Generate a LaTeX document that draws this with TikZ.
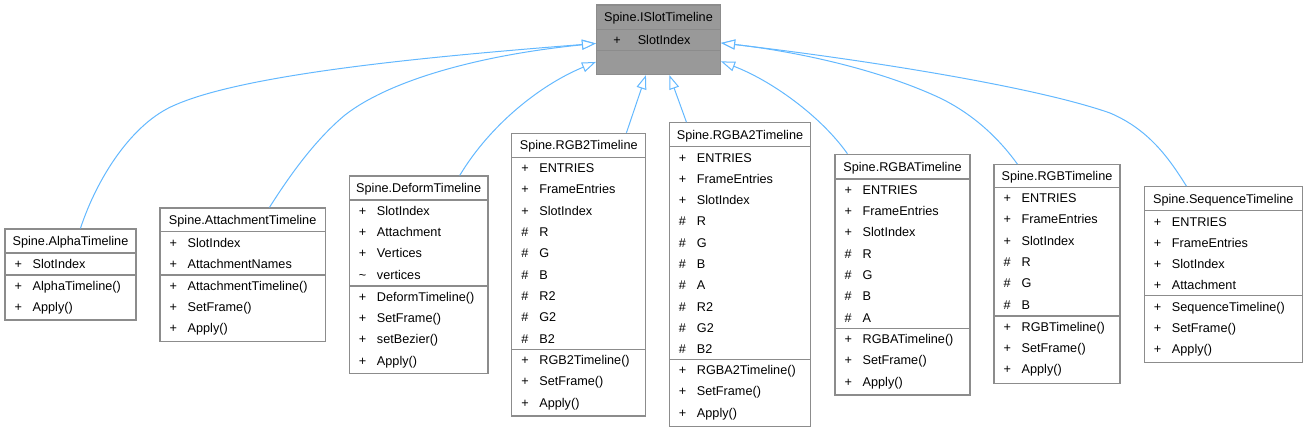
\documentclass[tikz,border=0pt]{standalone}
\usepackage{fontspec}
\setmainfont{Liberation Sans}
\usetikzlibrary{arrows.meta,fit,calc}
\definecolor{edgeblue}{HTML}{63B8FF}
\definecolor{boxborder}{HTML}{8C8C8C}
\definecolor{ifill}{HTML}{999999}
\tikzset{
  classframe/.style={draw=boxborder, line width=0.85pt, inner sep=0pt},
  sepline/.style={draw=boxborder, line width=0.85pt},
  txt/.style={font=\fontsize{9.5}{11}\selectfont, inner sep=0pt, anchor=base west},
  ttl/.style={font=\fontsize{9.5}{11}\selectfont, inner sep=0pt, anchor=base},
  inherit/.style={draw=edgeblue, line width=0.75pt, -{Triangle[length=10.5pt,width=7.5pt,fill=white]}},
}
% #1 name #2 L #3 T #4 R #5 S1 #6 S2 #7 B #8 title #9 fill
\newcommand\classbox[9]{%
  \node[classframe, fill=#9, fit={(#2,#3) (#4,#7)}] (#1) {};
  \draw[sepline] (#2,#5) -- (#4,#5);
  \draw[sepline] (#2,#6) -- (#4,#6);
  \node[ttl] (#1-title) at ({(#2+#4)/2},{(#3+#5)/2+4.6}) {#8};
}
% #1 prefix #2 L #3 S #4 symbol offset #5 name offset #6 list
\newcommand\members[6]{%
  \foreach \s/\m [count=\k from 0] in {#6} {
    \node[txt] (#1-s\k) at ({#2+#4},{#3+15.3+21.3*\k}) {\s};
    \node[txt] (#1-m\k) at ({#2+#5},{#3+15.3+21.3*\k}) {\m};
  }%
}
\begin{document}
\begin{tikzpicture}[x=0.75pt,y=-0.75pt]
\useasboundingbox (0,0) rectangle (1306,432);

% interface
\classbox{ist}{596.5}{5}{720.5}{29.3}{50.8}{74.6}{Spine.ISlotTimeline}{ifill}
\members{ista}{596.5}{29.3}{16.5}{41}{+/SlotIndex}

% AlphaTimeline
\classbox{alpha}{5}{229}{136}{253}{275}{320}{Spine.AlphaTimeline}{white}
\members{alphaa}{5}{253}{9.4}{27.4}{+/SlotIndex}
\members{alpham}{5}{275}{9.4}{27.4}{+/AlphaTimeline(), +/Apply()}

% AttachmentTimeline
\classbox{attach}{160}{208}{325.3}{231.7}{275}{341.3}{Spine.AttachmentTimeline}{white}
\members{attacha}{160}{231.7}{9.4}{27.4}{+/SlotIndex, +/AttachmentNames}
\members{attachm}{160}{275}{9.4}{27.4}{+/AttachmentTimeline(), +/SetFrame(), +/Apply()}

% DeformTimeline
\classbox{deform}{349.3}{176}{488}{200}{286}{373.3}{Spine.DeformTimeline}{white}
\members{deforma}{349.3}{200}{9.4}{27.4}{+/SlotIndex, +/Attachment, +/Vertices, \textasciitilde/vertices}
\members{deformm}{349.3}{286}{9.4}{27.4}{+/DeformTimeline(), +/SetFrame(), +/setBezier(), +/Apply()}

% RGB2Timeline
\classbox{rgbtwo}{511.7}{133.3}{645.7}{157.3}{349.3}{416}{Spine.RGB2Timeline}{white}
\members{rgbtwoa}{511.7}{157.3}{9.4}{27.4}{+/ENTRIES, +/FrameEntries, +/SlotIndex, \#/R, \#/G, \#/B, \#/R2, \#/G2, \#/B2}
\members{rgbtwom}{511.7}{349.3}{9.4}{27.4}{+/RGB2Timeline(), +/SetFrame(), +/Apply()}

% RGBA2Timeline
\classbox{rgbatwo}{669.3}{122.7}{810.7}{146.7}{359.3}{426.7}{Spine.RGBA2Timeline}{white}
\members{rgbatwoa}{669.3}{146.7}{9.4}{27.4}{+/ENTRIES, +/FrameEntries, +/SlotIndex, \#/R, \#/G, \#/B, \#/A, \#/R2, \#/G2, \#/B2}
\members{rgbatwom}{669.3}{359.3}{9.4}{27.4}{+/RGBA2Timeline(), +/SetFrame(), +/Apply()}

% RGBATimeline
\classbox{rgba}{835}{154.3}{970}{179}{328.3}{395}{Spine.RGBATimeline}{white}
\members{rgbaa}{835}{179}{9.4}{27.4}{+/ENTRIES, +/FrameEntries, +/SlotIndex, \#/R, \#/G, \#/B, \#/A}
\members{rgbam}{835}{328.3}{9.4}{27.4}{+/RGBATimeline(), +/SetFrame(), +/Apply()}

% RGBTimeline
\classbox{rgb}{994}{164.7}{1120}{187.3}{316}{383.3}{Spine.RGBTimeline}{white}
\members{rgbattr}{994}{187.3}{9.4}{27.4}{+/ENTRIES, +/FrameEntries, +/SlotIndex, \#/R, \#/G, \#/B}
\members{rgbmeth}{994}{316}{9.4}{27.4}{+/RGBTimeline(), +/SetFrame(), +/Apply()}

% SequenceTimeline
\classbox{seq}{1144.3}{186.7}{1302.3}{210.7}{295.7}{362.3}{Spine.SequenceTimeline}{white}
\members{seqa}{1144.3}{210.7}{9.4}{27.4}{+/ENTRIES, +/FrameEntries, +/SlotIndex, +/Attachment}
\members{seqm}{1144.3}{295.7}{9.4}{27.4}{+/SequenceTimeline(), +/SetFrame(), +/Apply()}

% inheritance connectors
\draw[inherit] ($(alpha.north west)+(76,0)$) .. controls (97,178) and (132,123) .. (175,105)
  .. controls (250,72) and (450,55) .. ($(ist.north west)+(0,39)$);
\draw[inherit] ($(attach.north west)+(110,0)$) .. controls (290,175) and (315,140) .. (345,115)
  .. controls (390,80) and (480,55) .. ($(ist.north west)+(0,39)$);
\draw[inherit] ($(deform.north west)+(111,0)$) .. controls (490,125) and (540,85) .. ($(ist.north west)+(0,57.5)$);
\draw[inherit] ($(rgbtwo.north west)+(115.3,0)$) -- ($(ist.south west)+(50,0)$);
\draw[inherit] ($(rgbatwo.north west)+(17.7,0)$) -- ($(ist.south west)+(73.5,0)$);
\draw[inherit] ($(rgba.north west)+(13,0)$) .. controls (820,115) and (770,80) .. ($(ist.north east)+(0,57)$);
\draw[inherit] ($(rgb.north west)+(24,0)$) .. controls (1000,140) and (975,115) .. (940,98)
  .. controls (880,70) and (800,52) .. ($(ist.north east)+(0,38.5)$);
\draw[inherit] ($(seq.north west)+(42.7,0)$) .. controls (1170,160) and (1150,130) .. (1110,113)
  .. controls (1030,85) and (850,58) .. ($(ist.north east)+(0,38.5)$);
\end{tikzpicture}
\end{document}
